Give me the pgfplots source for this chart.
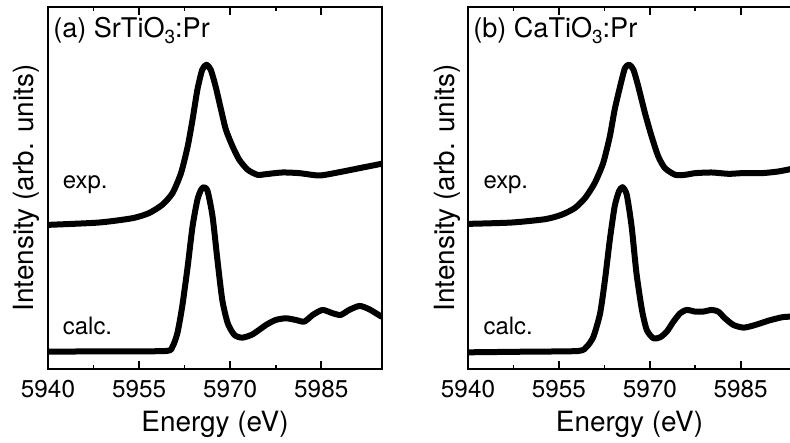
\documentclass[border=0pt]{standalone}
\usepackage{pgfplots}
\pgfplotsset{compat=1.18}
\usepackage{fontspec}
\setmainfont{TeX Gyre Heros}
\pgfplotstableread{
x y
5940.0 432
5948.4 439
5953.9 452
5956.6 467
5958.8 492
5960.5 527
5961.9 587
5963.0 667
5963.8 747
5964.6 837
5965.4 897
5966.1 912
5966.8 897
5967.6 847
5968.5 777
5969.3 717
5970.4 667
5971.5 627
5972.9 597
5974.5 582
5975.9 584
5978.6 589
5981.4 587
5984.7 580
5988.0 590
5991.3 602
5994.9 615
}\expA
\pgfplotstableread{
x y
5940.0 52
5950.0 53
5959.4 54
5960.5 67
5961.3 107
5962.1 187
5963.0 307
5963.8 427
5964.6 507
5965.2 537
5965.7 545
5966.3 532
5967.1 457
5967.9 327
5968.7 207
5969.6 137
5970.7 102
5972.0 94
5973.7 104
5975.9 132
5977.5 147
5979.2 152
5980.8 147
5982.2 142
5983.6 162
5985.2 177
5986.9 167
5988.2 162
5989.6 177
5991.3 189
5992.9 179
5994.9 157
}\calcA
\pgfplotstableread{
x y
5940.0 435
5947.2 439
5952.7 449
5955.4 462
5957.6 482
5959.3 512
5960.9 557
5962.3 617
5963.4 697
5964.2 777
5965.1 847
5965.9 902
5966.6 912
5967.3 897
5968.1 847
5969.2 767
5970.3 697
5971.4 637
5972.5 602
5974.2 582
5975.8 582
5977.5 587
5980.2 589
5983.0 585
5985.2 587
5988.5 587
5991.2 592
5993.2 599
}\expB
\pgfplotstableread{
x y
5940.0 50
5950.0 52
5958.2 54
5959.6 67
5960.7 97
5961.8 167
5962.6 267
5963.4 387
5964.2 487
5964.9 532
5965.5 545
5966.2 522
5967.0 427
5967.8 287
5968.7 177
5969.5 117
5970.6 92
5971.7 95
5972.8 112
5973.9 142
5975.0 167
5976.1 177
5977.5 172
5978.8 172
5980.2 177
5981.3 172
5982.4 152
5983.8 132
5985.5 124
5987.4 132
5989.6 145
5991.8 155
5993.2 157
}\calcB
\newcommand{\tickfont}{\fontsize{12.2}{15}\selectfont}
\newcommand{\labfont}{\fontsize{14}{17}\selectfont}
\newcommand{\titlefont}{\fontsize{13.6}{16}\selectfont}
\newcommand{\smallfont}{\fontsize{12}{14}\selectfont}
\newcommand{\sub}[1]{\raisebox{-3bp}{\fontsize{9.5}{11}\selectfont #1}}
\pgfplotsset{
  curve/.style={line width=3bp, black, no markers, line cap=round, line join=round, smooth, tension=0.4},
  myax/.style={
    anchor=south west, scale only axis,
    height=181bp,
    xmin=5940, ymin=0, ymax=1085,
    xtick={5940,5955,5970,5985},
    minor x tick num=1,
    ytick=\empty,
    tick align=inside,
    xtick pos=both,
    major tick length=4bp, minor tick length=2bp,
    axis line style={line width=1bp},
    every tick/.style={line width=0.8bp, black},
    /pgf/number format/assume math mode=true,
    /pgf/number format/1000 sep={},
    xticklabel style={inner sep=0pt, yshift=-5.5bp, font=\tickfont},
    xlabel={Energy (eV)},
    xlabel style={at={(axis description cs:0.5,0)}, anchor=north, inner sep=0pt, yshift=-20.8bp, font=\labfont},
    ylabel={Intensity (arb. units)},
    ylabel style={inner sep=0pt, font=\labfont},
  }
}
\begin{document}
\tickfont
\begin{tikzpicture}
\useasboundingbox (0,0) rectangle (395bp,221.5bp);
\begin{axis}[myax, at={(24bp,37bp)}, width=167bp, xmax=5995,
  ylabel style={at={(axis description cs:-0.042,0.5)}, anchor=base}]
\addplot[curve] table[x=x,y=y] {\expA};
\addplot[curve] table[x=x,y=y] {\calcA};
\node[anchor=base west, inner sep=0pt, font=\titlefont] at (axis cs:5940.8,993) {(a) SrTiO\sub{3}:Pr};
\node[anchor=base west, inner sep=0pt, font=\smallfont] at (axis cs:5942.4,542) {exp.};
\node[anchor=base west, inner sep=0pt, font=\smallfont] at (axis cs:5942.4,104) {calc.};
\end{axis}
\begin{axis}[myax, at={(234bp,37bp)}, width=161.5bp, xmax=5993.3,
  ylabel style={at={(axis description cs:-0.0433,0.5)}, anchor=base}]
\addplot[curve] table[x=x,y=y] {\expB};
\addplot[curve] table[x=x,y=y] {\calcB};
\node[anchor=base west, inner sep=0pt, font=\titlefont] at (axis cs:5940.8,993) {(b) CaTiO\sub{3}:Pr};
\node[anchor=base west, inner sep=0pt, font=\smallfont] at (axis cs:5942.5,542) {exp.};
\node[anchor=base west, inner sep=0pt, font=\smallfont] at (axis cs:5942.5,104) {calc.};
\end{axis}
\end{tikzpicture}
\end{document}
